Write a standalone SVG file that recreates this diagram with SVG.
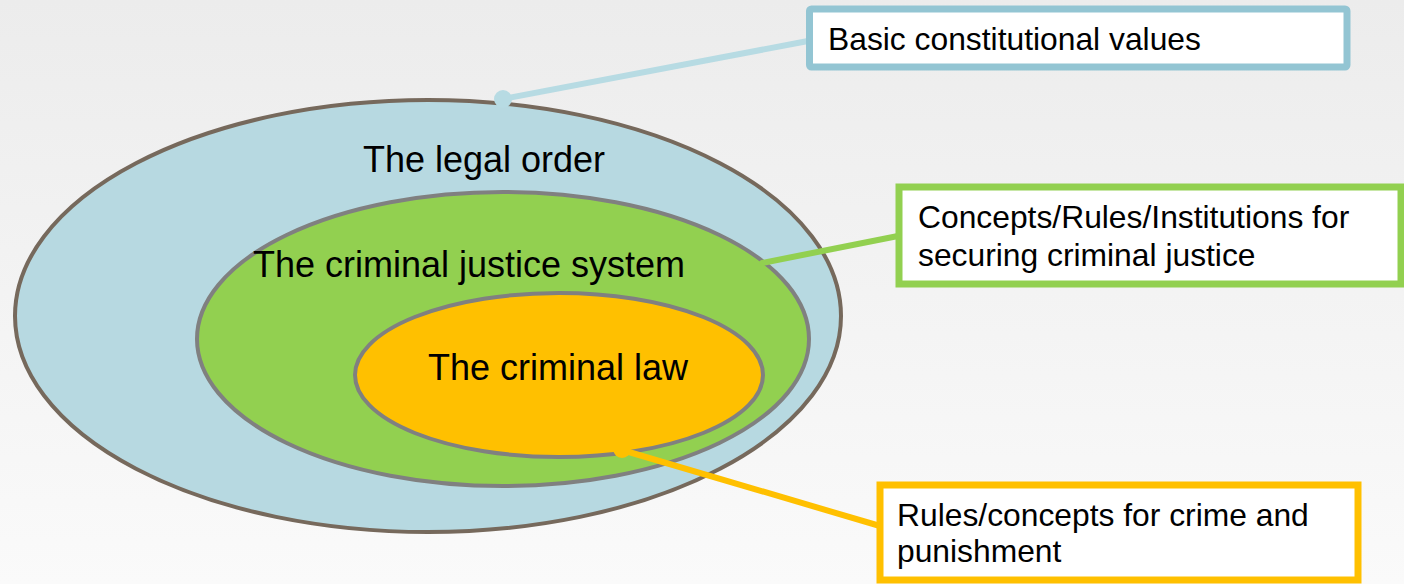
<svg xmlns="http://www.w3.org/2000/svg" width="1404" height="584" viewBox="0 0 1404 584">
<defs>
<linearGradient id="bg" x1="0" y1="0" x2="0" y2="1">
<stop offset="0" stop-color="#ececec"/>
<stop offset="1" stop-color="#fafafa"/>
</linearGradient>
</defs>
<style>
.t{font-family:"Liberation Sans",Arial,sans-serif;fill:#000}
.big{font-size:36px}
.box{font-size:31.8px}
.bx{fill:#fff;stroke-width:7}
</style>
<rect width="1404" height="584" fill="url(#bg)"/>
<g id="legal-order">
<ellipse cx="428" cy="316" rx="413" ry="216" fill="#b7d9e1" stroke="#76695c" stroke-width="4"/>
<text class="t big" x="484" y="172" text-anchor="middle">The legal order</text>
</g>
<g id="criminal-justice-system">
<ellipse cx="503" cy="339" rx="306" ry="147" fill="#92d050" stroke="#808080" stroke-width="4"/>
<text class="t big" x="469" y="277" text-anchor="middle">The criminal justice system</text>
</g>
<g id="criminal-law">
<ellipse cx="559" cy="375" rx="204" ry="82" fill="#ffc000" stroke="#808080" stroke-width="4"/>
<text class="t big" x="558" y="380" text-anchor="middle">The criminal law</text>
</g>
<g id="connectors" stroke-width="6" stroke-linecap="round">
<line x1="503" y1="99" x2="808" y2="41" stroke="#b7dbe3"/>
<circle cx="503" cy="99" r="9" fill="#b7dbe3" stroke="none"/>
<line x1="762" y1="263" x2="898" y2="236" stroke="#92d050"/>
<line x1="622" y1="450" x2="880" y2="526" stroke="#ffc000"/>
<circle cx="622" cy="449" r="9" fill="#ffc000" stroke="none"/>
</g>
<g id="box-basic-values">
<rect class="bx" x="809.5" y="9" width="537.5" height="58" rx="2" stroke="#93c5d3"/>
<text class="t box" x="828" y="50">Basic constitutional values</text>
</g>
<g id="box-concepts-rules">
<rect class="bx" x="899" y="187" width="502" height="97" stroke="#92d050"/>
<text class="t box" x="918" y="228">Concepts/Rules/Institutions for</text>
<text class="t box" x="918" y="266">securing criminal justice</text>
</g>
<g id="box-crime-punishment">
<rect class="bx" x="880" y="485" width="478" height="95" stroke="#ffc000"/>
<text class="t box" x="897" y="526">Rules/concepts for crime and</text>
<text class="t box" x="897" y="562">punishment</text>
</g>
</svg>
